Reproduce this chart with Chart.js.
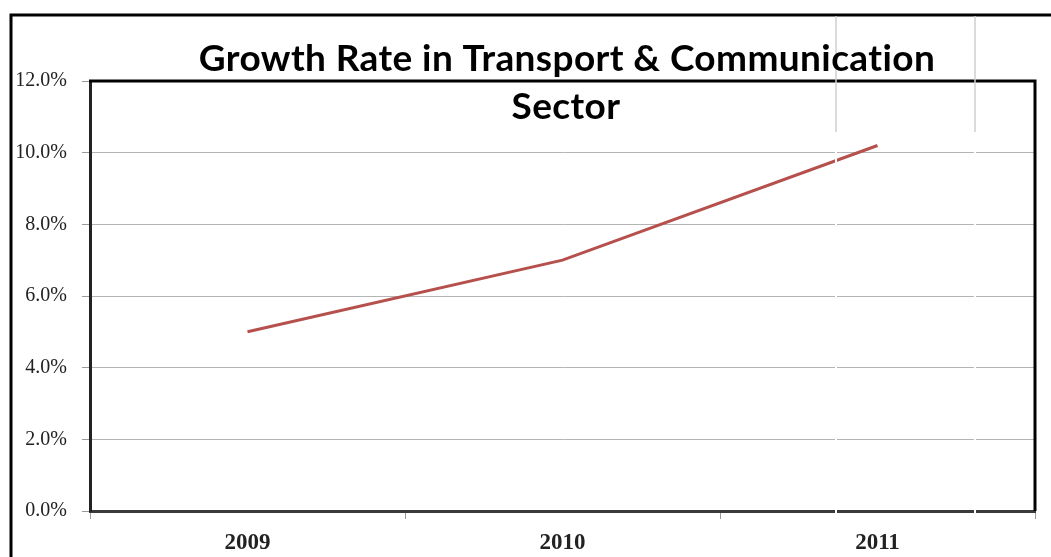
<!DOCTYPE html>
<html lang="en">
<head>
    <meta charset="UTF-8">
    <title>Growth Rate in Transport &amp; Communication Sector</title>
    <script src="https://cdn.jsdelivr.net/npm/chart.js"></script>
    <style>
        body {
            margin: 0;
            background: #ffffff;
        }

        .chart-container {
            position: relative;
            width: 1051px;
            height: 557px;
        }
    </style>
</head>
<body>
    <div class="chart-container">
        <canvas id="growthChart"></canvas>
    </div>

    <script>
        // Data
        const years = ['2009', '2010', '2011'];
        const growthRate = [5.0, 7.0, 10.2];
        const titleLines = ['Growth Rate in Transport & Communication', 'Sector'];

        // Frame, plot borders, faint scan lines and the title
        const framePlugin = {
            id: 'frame',
            beforeDraw(chart) {
                const ctx = chart.ctx;
                ctx.save();
                ctx.fillStyle = '#ffffff';
                ctx.fillRect(0, 0, chart.width, chart.height);
                ctx.strokeStyle = '#000000';
                ctx.lineWidth = 3;
                ctx.beginPath();
                ctx.moveTo(11, chart.height);
                ctx.lineTo(11, 15);
                ctx.lineTo(chart.width, 15);
                ctx.stroke();
                ctx.restore();
            },
            afterDraw(chart) {
                const ctx = chart.ctx;
                const a = chart.chartArea;
                ctx.save();
                // top and right edges of the plot
                ctx.strokeStyle = '#000000';
                ctx.lineWidth = 3;
                ctx.beginPath();
                ctx.moveTo(a.left - 1, a.top);
                ctx.lineTo(a.right, a.top);
                ctx.lineTo(a.right, a.bottom);
                ctx.stroke();

                // light vertical streaks
                [836, 975].forEach(x => {
                    ctx.strokeStyle = '#ffffff';
                    ctx.lineWidth = 2;
                    ctx.beginPath();
                    ctx.moveTo(x, 132);
                    ctx.lineTo(x, a.bottom + 2);
                    ctx.stroke();
                    ctx.strokeStyle = '#cfcfcf';
                    ctx.lineWidth = 1.5;
                    ctx.beginPath();
                    ctx.moveTo(x, 16);
                    ctx.lineTo(x, 132);
                    ctx.stroke();
                });

                // title (letter spacing also keeps "ti" from joining)
                ctx.fillStyle = '#000000';
                ctx.font = 'bold 37px Lato, "Open Sans", sans-serif';
                ctx.letterSpacing = '0.4px';
                ctx.textAlign = 'center';
                ctx.textBaseline = 'middle';
                ctx.fillText(titleLines[0], 567, 59);
                ctx.fillText(titleLines[1], 566, 107);
                ctx.restore();
            }
        };

        const ctx = document.getElementById('growthChart').getContext('2d');
        new Chart(ctx, {
            type: 'line',
            data: {
                labels: years,
                datasets: [{
                    label: 'Growth Rate',
                    data: growthRate,
                    borderColor: '#b5504d',
                    borderWidth: 3,
                    pointRadius: 0,
                    tension: 0
                }]
            },
            options: {
                responsive: true,
                maintainAspectRatio: false,
                animation: false,
                layout: {
                    padding: { top: 81, right: 16, bottom: 0, left: 0 }
                },
                plugins: {
                    legend: { display: false },
                    tooltip: { enabled: false }
                },
                scales: {
                    x: {
                        offset: true,
                        afterFit(scale) { scale.height = 46; },
                        grid: {
                            offset: true,
                            drawOnChartArea: false,
                            tickLength: 8,
                            tickColor: '#9a9a9a'
                        },
                        border: { color: '#3a3a3a', width: 3 },
                        ticks: {
                            padding: 10,
                            color: '#222222',
                            font: { family: '"Liberation Serif", serif', size: 23, weight: 'bold' }
                        }
                    },
                    y: {
                        min: 0,
                        max: 12,
                        afterFit(scale) { scale.width = 90; },
                        grid: {
                            color: '#b4b4b4',
                            lineWidth: 1,
                            tickLength: 8,
                            tickColor: '#9a9a9a'
                        },
                        border: { color: '#222222', width: 3 },
                        ticks: {
                            stepSize: 2,
                            padding: 15,
                            color: '#222222',
                            font: { family: '"Liberation Serif", serif', size: 20 },
                            callback: v => v.toFixed(1) + '%'
                        }
                    }
                }
            },
            plugins: [framePlugin]
        });
    </script>
</body>
</html>
